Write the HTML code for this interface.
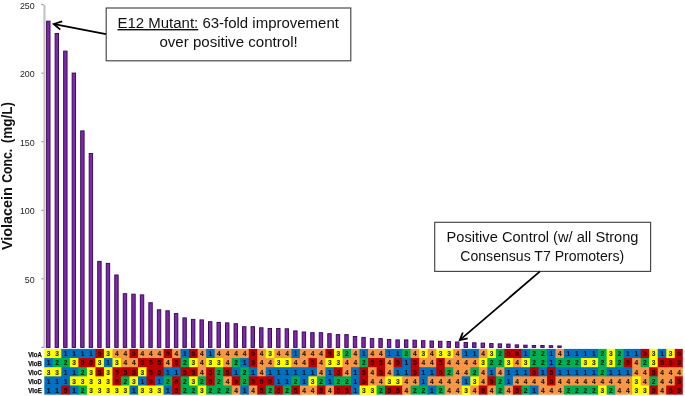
<!DOCTYPE html>
<html><head><meta charset="utf-8"><title>Violacein chart</title>
<style>
html,body{margin:0;padding:0;background:#fff;}
body{width:685px;height:396px;overflow:hidden;}
svg{display:block;font-family:"Liberation Sans",sans-serif;}
.t{font-size:8.9px;fill:#262626;text-anchor:end;}
.n{font-size:6.6px;font-weight:bold;fill:#000;fill-opacity:.85;stroke:#000;stroke-opacity:.5;stroke-width:.2px;text-anchor:middle;}
.v{font-size:7px;font-weight:bold;fill:#111;stroke:#111;stroke-width:.25px;}
.b{font-size:14px;fill:#111;}
.yl{font-size:13.8px;font-weight:bold;fill:#111;}
</style></head><body>
<svg width="685" height="396" viewBox="0 0 685 396">
<rect width="685" height="396" fill="#fff"/>
<g stroke="#c4c4c4" stroke-width="2.2" fill="none"><line x1="44.45" y1="4.7" x2="44.45" y2="347.9"/></g><g stroke="#8c8c8c" stroke-width="1" fill="none">
<line x1="41.3" y1="4.7" x2="43.6" y2="4.7"/>
<line x1="41.3" y1="73.2" x2="43.6" y2="73.2"/>
<line x1="41.3" y1="141.7" x2="43.6" y2="141.7"/>
<line x1="41.3" y1="210.3" x2="43.6" y2="210.3"/>
<line x1="41.3" y1="278.8" x2="43.6" y2="278.8"/>
<line x1="41.3" y1="347.3" x2="43.6" y2="347.3"/>
</g>
<text class="t" x="34.7" y="8.8">250</text>
<text class="t" x="34.7" y="77.3">200</text>
<text class="t" x="34.7" y="145.8">150</text>
<text class="t" x="34.7" y="214.4">100</text>
<text class="t" x="34.7" y="282.9">50</text>
<g transform="translate(12.3,0)"><text class="yl" transform="translate(0,250) rotate(-90)" textLength="62.8" lengthAdjust="spacingAndGlyphs">Violacein</text><text class="yl" transform="translate(0,182.8) rotate(-90)" textLength="34" lengthAdjust="spacingAndGlyphs">Conc.</text><text class="yl" transform="translate(0,143.3) rotate(-90)" textLength="41.3" lengthAdjust="spacingAndGlyphs">(mg/L)</text></g>
<g fill="#8028ab" stroke="#3a0d58" stroke-width="1">
<rect x="46.60" y="21.20" width="3.40" height="326.20"/>
<rect x="55.12" y="33.50" width="3.40" height="313.90"/>
<rect x="63.64" y="51.10" width="3.40" height="296.30"/>
<rect x="72.16" y="73.10" width="3.40" height="274.30"/>
<rect x="80.68" y="130.90" width="3.40" height="216.50"/>
<rect x="89.20" y="153.50" width="3.40" height="193.90"/>
<rect x="97.72" y="261.40" width="3.40" height="86.00"/>
<rect x="106.24" y="263.40" width="3.40" height="84.00"/>
<rect x="114.76" y="275.00" width="3.40" height="72.40"/>
<rect x="123.28" y="293.70" width="3.40" height="53.70"/>
<rect x="131.80" y="294.20" width="3.40" height="53.20"/>
<rect x="140.32" y="294.90" width="3.40" height="52.50"/>
<rect x="148.84" y="302.70" width="3.40" height="44.70"/>
<rect x="157.36" y="309.80" width="3.40" height="37.60"/>
<rect x="165.88" y="310.80" width="3.40" height="36.60"/>
<rect x="174.40" y="313.60" width="3.40" height="33.80"/>
<rect x="182.92" y="317.90" width="3.40" height="29.50"/>
<rect x="191.44" y="319.40" width="3.40" height="28.00"/>
<rect x="199.96" y="319.90" width="3.40" height="27.50"/>
<rect x="208.48" y="321.70" width="3.40" height="25.70"/>
<rect x="217.00" y="322.40" width="3.40" height="25.00"/>
<rect x="225.52" y="322.90" width="3.40" height="24.50"/>
<rect x="234.04" y="323.70" width="3.40" height="23.70"/>
<rect x="242.56" y="326.70" width="3.40" height="20.70"/>
<rect x="251.08" y="326.70" width="3.40" height="20.70"/>
<rect x="259.60" y="327.80" width="3.40" height="19.60"/>
<rect x="268.12" y="328.50" width="3.40" height="18.90"/>
<rect x="276.64" y="328.50" width="3.40" height="18.90"/>
<rect x="285.16" y="328.80" width="3.40" height="18.60"/>
<rect x="293.68" y="330.90" width="3.40" height="16.50"/>
<rect x="302.20" y="332.00" width="3.40" height="15.40"/>
<rect x="310.72" y="332.70" width="3.40" height="14.70"/>
<rect x="319.24" y="332.70" width="3.40" height="14.70"/>
<rect x="327.76" y="333.70" width="3.40" height="13.70"/>
<rect x="336.28" y="334.60" width="3.40" height="12.80"/>
<rect x="344.80" y="334.60" width="3.40" height="12.80"/>
<rect x="353.32" y="336.50" width="3.40" height="10.90"/>
<rect x="361.84" y="337.40" width="3.40" height="10.00"/>
<rect x="370.36" y="338.60" width="3.40" height="8.80"/>
<rect x="378.88" y="338.60" width="3.40" height="8.80"/>
<rect x="387.40" y="339.50" width="3.40" height="7.90"/>
<rect x="395.92" y="339.90" width="3.40" height="7.50"/>
<rect x="404.44" y="339.90" width="3.40" height="7.50"/>
<rect x="412.96" y="340.20" width="3.40" height="7.20"/>
<rect x="421.48" y="340.70" width="3.40" height="6.70"/>
<rect x="430.00" y="341.00" width="3.40" height="6.40"/>
<rect x="438.52" y="341.30" width="3.40" height="6.10"/>
<rect x="447.04" y="341.50" width="3.40" height="5.90"/>
<rect x="455.56" y="342.00" width="3.40" height="5.40"/>
<rect x="464.08" y="342.50" width="3.40" height="4.90"/>
<rect x="472.60" y="342.80" width="3.40" height="4.60"/>
<rect x="481.12" y="343.10" width="3.40" height="4.30"/>
<rect x="489.64" y="343.60" width="3.40" height="3.80"/>
<rect x="498.16" y="343.90" width="3.40" height="3.50"/>
<rect x="506.68" y="344.10" width="3.40" height="3.30"/>
<rect x="515.20" y="344.90" width="3.40" height="2.50"/>
<rect x="523.72" y="345.20" width="3.40" height="2.20"/>
<rect x="532.24" y="345.50" width="3.40" height="1.90"/>
<rect x="540.76" y="345.50" width="3.40" height="1.90"/>
<rect x="549.28" y="345.70" width="3.40" height="1.70"/>
<rect x="557.80" y="346.00" width="3.40" height="1.40"/>
</g>
<rect x="44.30" y="348.90" width="17.84" height="9.95" fill="#FFFF00"/>
<rect x="61.34" y="348.90" width="34.88" height="9.95" fill="#0070C0"/>
<rect x="95.42" y="348.90" width="9.32" height="9.95" fill="#C00000"/>
<rect x="103.94" y="348.90" width="9.32" height="9.95" fill="#FFFF00"/>
<rect x="112.46" y="348.90" width="17.84" height="9.95" fill="#F79646"/>
<rect x="129.50" y="348.90" width="9.32" height="9.95" fill="#C00000"/>
<rect x="138.02" y="348.90" width="26.36" height="9.95" fill="#F79646"/>
<rect x="163.58" y="348.90" width="9.32" height="9.95" fill="#C00000"/>
<rect x="172.10" y="348.90" width="9.32" height="9.95" fill="#F79646"/>
<rect x="180.62" y="348.90" width="9.32" height="9.95" fill="#0070C0"/>
<rect x="189.14" y="348.90" width="9.32" height="9.95" fill="#C00000"/>
<rect x="197.66" y="348.90" width="9.32" height="9.95" fill="#F79646"/>
<rect x="206.18" y="348.90" width="9.32" height="9.95" fill="#0070C0"/>
<rect x="214.70" y="348.90" width="34.88" height="9.95" fill="#F79646"/>
<rect x="248.78" y="348.90" width="9.32" height="9.95" fill="#C00000"/>
<rect x="257.30" y="348.90" width="9.32" height="9.95" fill="#F79646"/>
<rect x="265.82" y="348.90" width="9.32" height="9.95" fill="#FFFF00"/>
<rect x="274.34" y="348.90" width="17.84" height="9.95" fill="#F79646"/>
<rect x="291.38" y="348.90" width="9.32" height="9.95" fill="#0070C0"/>
<rect x="299.90" y="348.90" width="26.36" height="9.95" fill="#F79646"/>
<rect x="325.46" y="348.90" width="9.32" height="9.95" fill="#C00000"/>
<rect x="333.98" y="348.90" width="9.32" height="9.95" fill="#FFFF00"/>
<rect x="342.50" y="348.90" width="9.32" height="9.95" fill="#00B050"/>
<rect x="351.02" y="348.90" width="9.32" height="9.95" fill="#F79646"/>
<rect x="359.54" y="348.90" width="9.32" height="9.95" fill="#0070C0"/>
<rect x="368.06" y="348.90" width="17.84" height="9.95" fill="#F79646"/>
<rect x="385.10" y="348.90" width="17.84" height="9.95" fill="#0070C0"/>
<rect x="402.14" y="348.90" width="9.32" height="9.95" fill="#00B050"/>
<rect x="410.66" y="348.90" width="9.32" height="9.95" fill="#F79646"/>
<rect x="419.18" y="348.90" width="9.32" height="9.95" fill="#FFFF00"/>
<rect x="427.70" y="348.90" width="9.32" height="9.95" fill="#F79646"/>
<rect x="436.22" y="348.90" width="17.84" height="9.95" fill="#FFFF00"/>
<rect x="453.26" y="348.90" width="9.32" height="9.95" fill="#F79646"/>
<rect x="461.78" y="348.90" width="17.84" height="9.95" fill="#0070C0"/>
<rect x="478.82" y="348.90" width="9.32" height="9.95" fill="#F79646"/>
<rect x="487.34" y="348.90" width="9.32" height="9.95" fill="#FFFF00"/>
<rect x="495.86" y="348.90" width="9.32" height="9.95" fill="#00B050"/>
<rect x="504.38" y="348.90" width="17.84" height="9.95" fill="#C00000"/>
<rect x="521.42" y="348.90" width="9.32" height="9.95" fill="#0070C0"/>
<rect x="529.94" y="348.90" width="17.84" height="9.95" fill="#00B050"/>
<rect x="546.98" y="348.90" width="9.32" height="9.95" fill="#0070C0"/>
<rect x="555.50" y="348.90" width="9.32" height="9.95" fill="#F79646"/>
<rect x="564.02" y="348.90" width="34.88" height="9.95" fill="#0070C0"/>
<rect x="598.10" y="348.90" width="9.32" height="9.95" fill="#00B050"/>
<rect x="606.62" y="348.90" width="9.32" height="9.95" fill="#FFFF00"/>
<rect x="615.14" y="348.90" width="9.32" height="9.95" fill="#00B050"/>
<rect x="623.66" y="348.90" width="17.84" height="9.95" fill="#0070C0"/>
<rect x="640.70" y="348.90" width="9.32" height="9.95" fill="#C00000"/>
<rect x="649.22" y="348.90" width="9.32" height="9.95" fill="#FFFF00"/>
<rect x="657.74" y="348.90" width="9.32" height="9.95" fill="#0070C0"/>
<rect x="666.26" y="348.90" width="9.32" height="9.95" fill="#FFFF00"/>
<rect x="674.78" y="348.90" width="8.02" height="9.95" fill="#C00000"/>
<rect x="44.30" y="358.05" width="9.32" height="9.95" fill="#0070C0"/>
<rect x="52.82" y="358.05" width="17.84" height="9.95" fill="#00B050"/>
<rect x="69.86" y="358.05" width="9.32" height="9.95" fill="#FFFF00"/>
<rect x="78.38" y="358.05" width="17.84" height="9.95" fill="#C00000"/>
<rect x="95.42" y="358.05" width="9.32" height="9.95" fill="#FFFF00"/>
<rect x="103.94" y="358.05" width="9.32" height="9.95" fill="#0070C0"/>
<rect x="112.46" y="358.05" width="9.32" height="9.95" fill="#FFFF00"/>
<rect x="120.98" y="358.05" width="17.84" height="9.95" fill="#F79646"/>
<rect x="138.02" y="358.05" width="26.36" height="9.95" fill="#C00000"/>
<rect x="163.58" y="358.05" width="9.32" height="9.95" fill="#F79646"/>
<rect x="172.10" y="358.05" width="9.32" height="9.95" fill="#C00000"/>
<rect x="180.62" y="358.05" width="9.32" height="9.95" fill="#00B050"/>
<rect x="189.14" y="358.05" width="9.32" height="9.95" fill="#FFFF00"/>
<rect x="197.66" y="358.05" width="9.32" height="9.95" fill="#F79646"/>
<rect x="206.18" y="358.05" width="17.84" height="9.95" fill="#FFFF00"/>
<rect x="223.22" y="358.05" width="9.32" height="9.95" fill="#F79646"/>
<rect x="231.74" y="358.05" width="9.32" height="9.95" fill="#00B050"/>
<rect x="240.26" y="358.05" width="9.32" height="9.95" fill="#0070C0"/>
<rect x="248.78" y="358.05" width="9.32" height="9.95" fill="#C00000"/>
<rect x="257.30" y="358.05" width="17.84" height="9.95" fill="#F79646"/>
<rect x="274.34" y="358.05" width="17.84" height="9.95" fill="#FFFF00"/>
<rect x="291.38" y="358.05" width="17.84" height="9.95" fill="#F79646"/>
<rect x="308.42" y="358.05" width="9.32" height="9.95" fill="#C00000"/>
<rect x="316.94" y="358.05" width="9.32" height="9.95" fill="#F79646"/>
<rect x="325.46" y="358.05" width="17.84" height="9.95" fill="#FFFF00"/>
<rect x="342.50" y="358.05" width="17.84" height="9.95" fill="#F79646"/>
<rect x="359.54" y="358.05" width="9.32" height="9.95" fill="#00B050"/>
<rect x="368.06" y="358.05" width="17.84" height="9.95" fill="#C00000"/>
<rect x="385.10" y="358.05" width="9.32" height="9.95" fill="#F79646"/>
<rect x="393.62" y="358.05" width="9.32" height="9.95" fill="#C00000"/>
<rect x="402.14" y="358.05" width="9.32" height="9.95" fill="#0070C0"/>
<rect x="410.66" y="358.05" width="9.32" height="9.95" fill="#C00000"/>
<rect x="419.18" y="358.05" width="17.84" height="9.95" fill="#F79646"/>
<rect x="436.22" y="358.05" width="9.32" height="9.95" fill="#C00000"/>
<rect x="444.74" y="358.05" width="34.88" height="9.95" fill="#F79646"/>
<rect x="478.82" y="358.05" width="9.32" height="9.95" fill="#FFFF00"/>
<rect x="487.34" y="358.05" width="17.84" height="9.95" fill="#00B050"/>
<rect x="504.38" y="358.05" width="9.32" height="9.95" fill="#FFFF00"/>
<rect x="512.90" y="358.05" width="9.32" height="9.95" fill="#F79646"/>
<rect x="521.42" y="358.05" width="9.32" height="9.95" fill="#FFFF00"/>
<rect x="529.94" y="358.05" width="17.84" height="9.95" fill="#00B050"/>
<rect x="546.98" y="358.05" width="9.32" height="9.95" fill="#0070C0"/>
<rect x="555.50" y="358.05" width="26.36" height="9.95" fill="#00B050"/>
<rect x="581.06" y="358.05" width="17.84" height="9.95" fill="#FFFF00"/>
<rect x="598.10" y="358.05" width="9.32" height="9.95" fill="#00B050"/>
<rect x="606.62" y="358.05" width="9.32" height="9.95" fill="#FFFF00"/>
<rect x="615.14" y="358.05" width="9.32" height="9.95" fill="#00B050"/>
<rect x="623.66" y="358.05" width="9.32" height="9.95" fill="#C00000"/>
<rect x="632.18" y="358.05" width="9.32" height="9.95" fill="#F79646"/>
<rect x="640.70" y="358.05" width="9.32" height="9.95" fill="#00B050"/>
<rect x="649.22" y="358.05" width="9.32" height="9.95" fill="#FFFF00"/>
<rect x="657.74" y="358.05" width="25.06" height="9.95" fill="#C00000"/>
<rect x="44.30" y="367.20" width="17.84" height="9.95" fill="#FFFF00"/>
<rect x="61.34" y="367.20" width="17.84" height="9.95" fill="#0070C0"/>
<rect x="78.38" y="367.20" width="9.32" height="9.95" fill="#00B050"/>
<rect x="86.90" y="367.20" width="9.32" height="9.95" fill="#FFFF00"/>
<rect x="95.42" y="367.20" width="9.32" height="9.95" fill="#C00000"/>
<rect x="103.94" y="367.20" width="9.32" height="9.95" fill="#FFFF00"/>
<rect x="112.46" y="367.20" width="26.36" height="9.95" fill="#C00000"/>
<rect x="138.02" y="367.20" width="9.32" height="9.95" fill="#FFFF00"/>
<rect x="146.54" y="367.20" width="17.84" height="9.95" fill="#C00000"/>
<rect x="163.58" y="367.20" width="17.84" height="9.95" fill="#0070C0"/>
<rect x="180.62" y="367.20" width="17.84" height="9.95" fill="#C00000"/>
<rect x="197.66" y="367.20" width="9.32" height="9.95" fill="#F79646"/>
<rect x="206.18" y="367.20" width="9.32" height="9.95" fill="#C00000"/>
<rect x="214.70" y="367.20" width="9.32" height="9.95" fill="#00B050"/>
<rect x="223.22" y="367.20" width="9.32" height="9.95" fill="#C00000"/>
<rect x="231.74" y="367.20" width="9.32" height="9.95" fill="#0070C0"/>
<rect x="240.26" y="367.20" width="9.32" height="9.95" fill="#00B050"/>
<rect x="248.78" y="367.20" width="9.32" height="9.95" fill="#0070C0"/>
<rect x="257.30" y="367.20" width="9.32" height="9.95" fill="#F79646"/>
<rect x="265.82" y="367.20" width="51.92" height="9.95" fill="#0070C0"/>
<rect x="316.94" y="367.20" width="9.32" height="9.95" fill="#F79646"/>
<rect x="325.46" y="367.20" width="9.32" height="9.95" fill="#0070C0"/>
<rect x="333.98" y="367.20" width="9.32" height="9.95" fill="#C00000"/>
<rect x="342.50" y="367.20" width="9.32" height="9.95" fill="#F79646"/>
<rect x="351.02" y="367.20" width="9.32" height="9.95" fill="#0070C0"/>
<rect x="359.54" y="367.20" width="9.32" height="9.95" fill="#C00000"/>
<rect x="368.06" y="367.20" width="9.32" height="9.95" fill="#F79646"/>
<rect x="376.58" y="367.20" width="9.32" height="9.95" fill="#C00000"/>
<rect x="385.10" y="367.20" width="9.32" height="9.95" fill="#F79646"/>
<rect x="393.62" y="367.20" width="17.84" height="9.95" fill="#0070C0"/>
<rect x="410.66" y="367.20" width="9.32" height="9.95" fill="#C00000"/>
<rect x="419.18" y="367.20" width="17.84" height="9.95" fill="#0070C0"/>
<rect x="436.22" y="367.20" width="9.32" height="9.95" fill="#C00000"/>
<rect x="444.74" y="367.20" width="9.32" height="9.95" fill="#00B050"/>
<rect x="453.26" y="367.20" width="17.84" height="9.95" fill="#F79646"/>
<rect x="470.30" y="367.20" width="9.32" height="9.95" fill="#00B050"/>
<rect x="478.82" y="367.20" width="9.32" height="9.95" fill="#F79646"/>
<rect x="487.34" y="367.20" width="9.32" height="9.95" fill="#0070C0"/>
<rect x="495.86" y="367.20" width="9.32" height="9.95" fill="#F79646"/>
<rect x="504.38" y="367.20" width="26.36" height="9.95" fill="#0070C0"/>
<rect x="529.94" y="367.20" width="9.32" height="9.95" fill="#C00000"/>
<rect x="538.46" y="367.20" width="9.32" height="9.95" fill="#0070C0"/>
<rect x="546.98" y="367.20" width="9.32" height="9.95" fill="#C00000"/>
<rect x="555.50" y="367.20" width="43.40" height="9.95" fill="#0070C0"/>
<rect x="598.10" y="367.20" width="9.32" height="9.95" fill="#00B050"/>
<rect x="606.62" y="367.20" width="26.36" height="9.95" fill="#0070C0"/>
<rect x="632.18" y="367.20" width="17.84" height="9.95" fill="#F79646"/>
<rect x="649.22" y="367.20" width="9.32" height="9.95" fill="#C00000"/>
<rect x="657.74" y="367.20" width="25.06" height="9.95" fill="#F79646"/>
<rect x="44.30" y="376.35" width="26.36" height="9.95" fill="#0070C0"/>
<rect x="69.86" y="376.35" width="43.40" height="9.95" fill="#FFFF00"/>
<rect x="112.46" y="376.35" width="9.32" height="9.95" fill="#C00000"/>
<rect x="120.98" y="376.35" width="9.32" height="9.95" fill="#00B050"/>
<rect x="129.50" y="376.35" width="9.32" height="9.95" fill="#FFFF00"/>
<rect x="138.02" y="376.35" width="9.32" height="9.95" fill="#0070C0"/>
<rect x="146.54" y="376.35" width="9.32" height="9.95" fill="#C00000"/>
<rect x="155.06" y="376.35" width="9.32" height="9.95" fill="#0070C0"/>
<rect x="163.58" y="376.35" width="9.32" height="9.95" fill="#00B050"/>
<rect x="172.10" y="376.35" width="9.32" height="9.95" fill="#C00000"/>
<rect x="180.62" y="376.35" width="9.32" height="9.95" fill="#00B050"/>
<rect x="189.14" y="376.35" width="9.32" height="9.95" fill="#FFFF00"/>
<rect x="197.66" y="376.35" width="9.32" height="9.95" fill="#00B050"/>
<rect x="206.18" y="376.35" width="9.32" height="9.95" fill="#C00000"/>
<rect x="214.70" y="376.35" width="9.32" height="9.95" fill="#00B050"/>
<rect x="223.22" y="376.35" width="9.32" height="9.95" fill="#F79646"/>
<rect x="231.74" y="376.35" width="9.32" height="9.95" fill="#C00000"/>
<rect x="240.26" y="376.35" width="9.32" height="9.95" fill="#00B050"/>
<rect x="248.78" y="376.35" width="26.36" height="9.95" fill="#C00000"/>
<rect x="274.34" y="376.35" width="17.84" height="9.95" fill="#0070C0"/>
<rect x="291.38" y="376.35" width="9.32" height="9.95" fill="#00B050"/>
<rect x="299.90" y="376.35" width="9.32" height="9.95" fill="#0070C0"/>
<rect x="308.42" y="376.35" width="9.32" height="9.95" fill="#FFFF00"/>
<rect x="316.94" y="376.35" width="9.32" height="9.95" fill="#00B050"/>
<rect x="325.46" y="376.35" width="9.32" height="9.95" fill="#0070C0"/>
<rect x="333.98" y="376.35" width="17.84" height="9.95" fill="#00B050"/>
<rect x="351.02" y="376.35" width="9.32" height="9.95" fill="#0070C0"/>
<rect x="359.54" y="376.35" width="9.32" height="9.95" fill="#C00000"/>
<rect x="368.06" y="376.35" width="17.84" height="9.95" fill="#F79646"/>
<rect x="385.10" y="376.35" width="17.84" height="9.95" fill="#FFFF00"/>
<rect x="402.14" y="376.35" width="17.84" height="9.95" fill="#F79646"/>
<rect x="419.18" y="376.35" width="9.32" height="9.95" fill="#0070C0"/>
<rect x="427.70" y="376.35" width="34.88" height="9.95" fill="#F79646"/>
<rect x="461.78" y="376.35" width="9.32" height="9.95" fill="#0070C0"/>
<rect x="470.30" y="376.35" width="9.32" height="9.95" fill="#FFFF00"/>
<rect x="478.82" y="376.35" width="9.32" height="9.95" fill="#F79646"/>
<rect x="487.34" y="376.35" width="9.32" height="9.95" fill="#C00000"/>
<rect x="495.86" y="376.35" width="9.32" height="9.95" fill="#00B050"/>
<rect x="504.38" y="376.35" width="9.32" height="9.95" fill="#0070C0"/>
<rect x="512.90" y="376.35" width="34.88" height="9.95" fill="#F79646"/>
<rect x="546.98" y="376.35" width="9.32" height="9.95" fill="#C00000"/>
<rect x="555.50" y="376.35" width="77.48" height="9.95" fill="#F79646"/>
<rect x="632.18" y="376.35" width="9.32" height="9.95" fill="#FFFF00"/>
<rect x="640.70" y="376.35" width="9.32" height="9.95" fill="#F79646"/>
<rect x="649.22" y="376.35" width="9.32" height="9.95" fill="#00B050"/>
<rect x="657.74" y="376.35" width="17.84" height="9.95" fill="#F79646"/>
<rect x="674.78" y="376.35" width="8.02" height="9.95" fill="#C00000"/>
<rect x="44.30" y="385.50" width="17.84" height="9.15" fill="#0070C0"/>
<rect x="61.34" y="385.50" width="9.32" height="9.15" fill="#C00000"/>
<rect x="69.86" y="385.50" width="9.32" height="9.15" fill="#0070C0"/>
<rect x="78.38" y="385.50" width="9.32" height="9.15" fill="#00B050"/>
<rect x="86.90" y="385.50" width="43.40" height="9.15" fill="#FFFF00"/>
<rect x="129.50" y="385.50" width="9.32" height="9.15" fill="#0070C0"/>
<rect x="138.02" y="385.50" width="26.36" height="9.15" fill="#FFFF00"/>
<rect x="163.58" y="385.50" width="9.32" height="9.15" fill="#0070C0"/>
<rect x="172.10" y="385.50" width="9.32" height="9.15" fill="#C00000"/>
<rect x="180.62" y="385.50" width="17.84" height="9.15" fill="#00B050"/>
<rect x="197.66" y="385.50" width="9.32" height="9.15" fill="#FFFF00"/>
<rect x="206.18" y="385.50" width="26.36" height="9.15" fill="#00B050"/>
<rect x="231.74" y="385.50" width="9.32" height="9.15" fill="#F79646"/>
<rect x="240.26" y="385.50" width="9.32" height="9.15" fill="#0070C0"/>
<rect x="248.78" y="385.50" width="9.32" height="9.15" fill="#F79646"/>
<rect x="257.30" y="385.50" width="9.32" height="9.15" fill="#C00000"/>
<rect x="265.82" y="385.50" width="9.32" height="9.15" fill="#00B050"/>
<rect x="274.34" y="385.50" width="9.32" height="9.15" fill="#C00000"/>
<rect x="282.86" y="385.50" width="9.32" height="9.15" fill="#00B050"/>
<rect x="291.38" y="385.50" width="9.32" height="9.15" fill="#C00000"/>
<rect x="299.90" y="385.50" width="17.84" height="9.15" fill="#F79646"/>
<rect x="316.94" y="385.50" width="9.32" height="9.15" fill="#C00000"/>
<rect x="325.46" y="385.50" width="9.32" height="9.15" fill="#F79646"/>
<rect x="333.98" y="385.50" width="17.84" height="9.15" fill="#C00000"/>
<rect x="351.02" y="385.50" width="9.32" height="9.15" fill="#0070C0"/>
<rect x="359.54" y="385.50" width="17.84" height="9.15" fill="#FFFF00"/>
<rect x="376.58" y="385.50" width="9.32" height="9.15" fill="#00B050"/>
<rect x="385.10" y="385.50" width="17.84" height="9.15" fill="#C00000"/>
<rect x="402.14" y="385.50" width="9.32" height="9.15" fill="#F79646"/>
<rect x="410.66" y="385.50" width="17.84" height="9.15" fill="#00B050"/>
<rect x="427.70" y="385.50" width="9.32" height="9.15" fill="#0070C0"/>
<rect x="436.22" y="385.50" width="9.32" height="9.15" fill="#00B050"/>
<rect x="444.74" y="385.50" width="17.84" height="9.15" fill="#F79646"/>
<rect x="461.78" y="385.50" width="9.32" height="9.15" fill="#FFFF00"/>
<rect x="470.30" y="385.50" width="9.32" height="9.15" fill="#F79646"/>
<rect x="478.82" y="385.50" width="9.32" height="9.15" fill="#C00000"/>
<rect x="487.34" y="385.50" width="9.32" height="9.15" fill="#F79646"/>
<rect x="495.86" y="385.50" width="9.32" height="9.15" fill="#00B050"/>
<rect x="504.38" y="385.50" width="9.32" height="9.15" fill="#F79646"/>
<rect x="512.90" y="385.50" width="9.32" height="9.15" fill="#C00000"/>
<rect x="521.42" y="385.50" width="9.32" height="9.15" fill="#00B050"/>
<rect x="529.94" y="385.50" width="9.32" height="9.15" fill="#0070C0"/>
<rect x="538.46" y="385.50" width="26.36" height="9.15" fill="#F79646"/>
<rect x="564.02" y="385.50" width="34.88" height="9.15" fill="#00B050"/>
<rect x="598.10" y="385.50" width="9.32" height="9.15" fill="#FFFF00"/>
<rect x="606.62" y="385.50" width="9.32" height="9.15" fill="#00B050"/>
<rect x="615.14" y="385.50" width="17.84" height="9.15" fill="#F79646"/>
<rect x="632.18" y="385.50" width="17.84" height="9.15" fill="#FFFF00"/>
<rect x="649.22" y="385.50" width="9.32" height="9.15" fill="#C00000"/>
<rect x="657.74" y="385.50" width="9.32" height="9.15" fill="#F79646"/>
<rect x="666.26" y="385.50" width="16.54" height="9.15" fill="#C00000"/>
<text class="v" x="28.2" y="356.5" textLength="13.6" lengthAdjust="spacingAndGlyphs">VioA</text>
<text class="n" x="48.56" y="356.20">3</text>
<text class="n" x="57.08" y="356.20">3</text>
<text class="n" x="65.60" y="356.20">1</text>
<text class="n" x="74.12" y="356.20">1</text>
<text class="n" x="82.64" y="356.20">1</text>
<text class="n" x="91.16" y="356.20">1</text>
<text class="n" x="99.68" y="356.20">5</text>
<text class="n" x="108.20" y="356.20">3</text>
<text class="n" x="116.72" y="356.20">4</text>
<text class="n" x="125.24" y="356.20">4</text>
<text class="n" x="133.76" y="356.20">5</text>
<text class="n" x="142.28" y="356.20">4</text>
<text class="n" x="150.80" y="356.20">4</text>
<text class="n" x="159.32" y="356.20">4</text>
<text class="n" x="167.84" y="356.20">5</text>
<text class="n" x="176.36" y="356.20">4</text>
<text class="n" x="184.88" y="356.20">1</text>
<text class="n" x="193.40" y="356.20">5</text>
<text class="n" x="201.92" y="356.20">4</text>
<text class="n" x="210.44" y="356.20">1</text>
<text class="n" x="218.96" y="356.20">4</text>
<text class="n" x="227.48" y="356.20">4</text>
<text class="n" x="236.00" y="356.20">4</text>
<text class="n" x="244.52" y="356.20">4</text>
<text class="n" x="253.04" y="356.20">5</text>
<text class="n" x="261.56" y="356.20">4</text>
<text class="n" x="270.08" y="356.20">3</text>
<text class="n" x="278.60" y="356.20">4</text>
<text class="n" x="287.12" y="356.20">4</text>
<text class="n" x="295.64" y="356.20">1</text>
<text class="n" x="304.16" y="356.20">4</text>
<text class="n" x="312.68" y="356.20">4</text>
<text class="n" x="321.20" y="356.20">4</text>
<text class="n" x="329.72" y="356.20">5</text>
<text class="n" x="338.24" y="356.20">3</text>
<text class="n" x="346.76" y="356.20">2</text>
<text class="n" x="355.28" y="356.20">4</text>
<text class="n" x="363.80" y="356.20">1</text>
<text class="n" x="372.32" y="356.20">4</text>
<text class="n" x="380.84" y="356.20">4</text>
<text class="n" x="389.36" y="356.20">1</text>
<text class="n" x="397.88" y="356.20">1</text>
<text class="n" x="406.40" y="356.20">2</text>
<text class="n" x="414.92" y="356.20">4</text>
<text class="n" x="423.44" y="356.20">3</text>
<text class="n" x="431.96" y="356.20">4</text>
<text class="n" x="440.48" y="356.20">3</text>
<text class="n" x="449.00" y="356.20">3</text>
<text class="n" x="457.52" y="356.20">4</text>
<text class="n" x="466.04" y="356.20">1</text>
<text class="n" x="474.56" y="356.20">1</text>
<text class="n" x="483.08" y="356.20">4</text>
<text class="n" x="491.60" y="356.20">3</text>
<text class="n" x="500.12" y="356.20">2</text>
<text class="n" x="508.64" y="356.20">5</text>
<text class="n" x="517.16" y="356.20">5</text>
<text class="n" x="525.68" y="356.20">1</text>
<text class="n" x="534.20" y="356.20">2</text>
<text class="n" x="542.72" y="356.20">2</text>
<text class="n" x="551.24" y="356.20">1</text>
<text class="n" x="559.76" y="356.20">4</text>
<text class="n" x="568.28" y="356.20">1</text>
<text class="n" x="576.80" y="356.20">1</text>
<text class="n" x="585.32" y="356.20">1</text>
<text class="n" x="593.84" y="356.20">1</text>
<text class="n" x="602.36" y="356.20">2</text>
<text class="n" x="610.88" y="356.20">3</text>
<text class="n" x="619.40" y="356.20">2</text>
<text class="n" x="627.92" y="356.20">1</text>
<text class="n" x="636.44" y="356.20">1</text>
<text class="n" x="644.96" y="356.20">5</text>
<text class="n" x="653.48" y="356.20">3</text>
<text class="n" x="662.00" y="356.20">1</text>
<text class="n" x="670.52" y="356.20">3</text>
<text class="n" x="679.04" y="356.20">5</text>
<text class="v" x="28.2" y="365.6" textLength="13.6" lengthAdjust="spacingAndGlyphs">VioB</text>
<text class="n" x="48.56" y="365.35">1</text>
<text class="n" x="57.08" y="365.35">2</text>
<text class="n" x="65.60" y="365.35">2</text>
<text class="n" x="74.12" y="365.35">3</text>
<text class="n" x="82.64" y="365.35">5</text>
<text class="n" x="91.16" y="365.35">5</text>
<text class="n" x="99.68" y="365.35">3</text>
<text class="n" x="108.20" y="365.35">1</text>
<text class="n" x="116.72" y="365.35">3</text>
<text class="n" x="125.24" y="365.35">4</text>
<text class="n" x="133.76" y="365.35">4</text>
<text class="n" x="142.28" y="365.35">5</text>
<text class="n" x="150.80" y="365.35">5</text>
<text class="n" x="159.32" y="365.35">5</text>
<text class="n" x="167.84" y="365.35">4</text>
<text class="n" x="176.36" y="365.35">5</text>
<text class="n" x="184.88" y="365.35">2</text>
<text class="n" x="193.40" y="365.35">3</text>
<text class="n" x="201.92" y="365.35">4</text>
<text class="n" x="210.44" y="365.35">3</text>
<text class="n" x="218.96" y="365.35">3</text>
<text class="n" x="227.48" y="365.35">4</text>
<text class="n" x="236.00" y="365.35">2</text>
<text class="n" x="244.52" y="365.35">1</text>
<text class="n" x="253.04" y="365.35">5</text>
<text class="n" x="261.56" y="365.35">4</text>
<text class="n" x="270.08" y="365.35">4</text>
<text class="n" x="278.60" y="365.35">3</text>
<text class="n" x="287.12" y="365.35">3</text>
<text class="n" x="295.64" y="365.35">4</text>
<text class="n" x="304.16" y="365.35">4</text>
<text class="n" x="312.68" y="365.35">5</text>
<text class="n" x="321.20" y="365.35">4</text>
<text class="n" x="329.72" y="365.35">3</text>
<text class="n" x="338.24" y="365.35">3</text>
<text class="n" x="346.76" y="365.35">4</text>
<text class="n" x="355.28" y="365.35">4</text>
<text class="n" x="363.80" y="365.35">2</text>
<text class="n" x="372.32" y="365.35">5</text>
<text class="n" x="380.84" y="365.35">5</text>
<text class="n" x="389.36" y="365.35">4</text>
<text class="n" x="397.88" y="365.35">5</text>
<text class="n" x="406.40" y="365.35">1</text>
<text class="n" x="414.92" y="365.35">5</text>
<text class="n" x="423.44" y="365.35">4</text>
<text class="n" x="431.96" y="365.35">4</text>
<text class="n" x="440.48" y="365.35">5</text>
<text class="n" x="449.00" y="365.35">4</text>
<text class="n" x="457.52" y="365.35">4</text>
<text class="n" x="466.04" y="365.35">4</text>
<text class="n" x="474.56" y="365.35">4</text>
<text class="n" x="483.08" y="365.35">3</text>
<text class="n" x="491.60" y="365.35">2</text>
<text class="n" x="500.12" y="365.35">2</text>
<text class="n" x="508.64" y="365.35">3</text>
<text class="n" x="517.16" y="365.35">4</text>
<text class="n" x="525.68" y="365.35">3</text>
<text class="n" x="534.20" y="365.35">2</text>
<text class="n" x="542.72" y="365.35">2</text>
<text class="n" x="551.24" y="365.35">1</text>
<text class="n" x="559.76" y="365.35">2</text>
<text class="n" x="568.28" y="365.35">2</text>
<text class="n" x="576.80" y="365.35">2</text>
<text class="n" x="585.32" y="365.35">3</text>
<text class="n" x="593.84" y="365.35">3</text>
<text class="n" x="602.36" y="365.35">2</text>
<text class="n" x="610.88" y="365.35">3</text>
<text class="n" x="619.40" y="365.35">2</text>
<text class="n" x="627.92" y="365.35">5</text>
<text class="n" x="636.44" y="365.35">4</text>
<text class="n" x="644.96" y="365.35">2</text>
<text class="n" x="653.48" y="365.35">3</text>
<text class="n" x="662.00" y="365.35">5</text>
<text class="n" x="670.52" y="365.35">5</text>
<text class="n" x="679.04" y="365.35">5</text>
<text class="v" x="28.2" y="374.8" textLength="13.6" lengthAdjust="spacingAndGlyphs">VioC</text>
<text class="n" x="48.56" y="374.50">3</text>
<text class="n" x="57.08" y="374.50">3</text>
<text class="n" x="65.60" y="374.50">1</text>
<text class="n" x="74.12" y="374.50">1</text>
<text class="n" x="82.64" y="374.50">2</text>
<text class="n" x="91.16" y="374.50">3</text>
<text class="n" x="99.68" y="374.50">5</text>
<text class="n" x="108.20" y="374.50">3</text>
<text class="n" x="116.72" y="374.50">5</text>
<text class="n" x="125.24" y="374.50">5</text>
<text class="n" x="133.76" y="374.50">5</text>
<text class="n" x="142.28" y="374.50">3</text>
<text class="n" x="150.80" y="374.50">5</text>
<text class="n" x="159.32" y="374.50">5</text>
<text class="n" x="167.84" y="374.50">1</text>
<text class="n" x="176.36" y="374.50">1</text>
<text class="n" x="184.88" y="374.50">5</text>
<text class="n" x="193.40" y="374.50">5</text>
<text class="n" x="201.92" y="374.50">4</text>
<text class="n" x="210.44" y="374.50">5</text>
<text class="n" x="218.96" y="374.50">2</text>
<text class="n" x="227.48" y="374.50">5</text>
<text class="n" x="236.00" y="374.50">1</text>
<text class="n" x="244.52" y="374.50">2</text>
<text class="n" x="253.04" y="374.50">1</text>
<text class="n" x="261.56" y="374.50">4</text>
<text class="n" x="270.08" y="374.50">1</text>
<text class="n" x="278.60" y="374.50">1</text>
<text class="n" x="287.12" y="374.50">1</text>
<text class="n" x="295.64" y="374.50">1</text>
<text class="n" x="304.16" y="374.50">1</text>
<text class="n" x="312.68" y="374.50">1</text>
<text class="n" x="321.20" y="374.50">4</text>
<text class="n" x="329.72" y="374.50">1</text>
<text class="n" x="338.24" y="374.50">5</text>
<text class="n" x="346.76" y="374.50">4</text>
<text class="n" x="355.28" y="374.50">1</text>
<text class="n" x="363.80" y="374.50">5</text>
<text class="n" x="372.32" y="374.50">4</text>
<text class="n" x="380.84" y="374.50">5</text>
<text class="n" x="389.36" y="374.50">4</text>
<text class="n" x="397.88" y="374.50">1</text>
<text class="n" x="406.40" y="374.50">1</text>
<text class="n" x="414.92" y="374.50">5</text>
<text class="n" x="423.44" y="374.50">1</text>
<text class="n" x="431.96" y="374.50">1</text>
<text class="n" x="440.48" y="374.50">5</text>
<text class="n" x="449.00" y="374.50">2</text>
<text class="n" x="457.52" y="374.50">4</text>
<text class="n" x="466.04" y="374.50">4</text>
<text class="n" x="474.56" y="374.50">2</text>
<text class="n" x="483.08" y="374.50">4</text>
<text class="n" x="491.60" y="374.50">1</text>
<text class="n" x="500.12" y="374.50">4</text>
<text class="n" x="508.64" y="374.50">1</text>
<text class="n" x="517.16" y="374.50">1</text>
<text class="n" x="525.68" y="374.50">1</text>
<text class="n" x="534.20" y="374.50">5</text>
<text class="n" x="542.72" y="374.50">1</text>
<text class="n" x="551.24" y="374.50">5</text>
<text class="n" x="559.76" y="374.50">1</text>
<text class="n" x="568.28" y="374.50">1</text>
<text class="n" x="576.80" y="374.50">1</text>
<text class="n" x="585.32" y="374.50">1</text>
<text class="n" x="593.84" y="374.50">1</text>
<text class="n" x="602.36" y="374.50">2</text>
<text class="n" x="610.88" y="374.50">1</text>
<text class="n" x="619.40" y="374.50">1</text>
<text class="n" x="627.92" y="374.50">1</text>
<text class="n" x="636.44" y="374.50">4</text>
<text class="n" x="644.96" y="374.50">4</text>
<text class="n" x="653.48" y="374.50">5</text>
<text class="n" x="662.00" y="374.50">4</text>
<text class="n" x="670.52" y="374.50">4</text>
<text class="n" x="679.04" y="374.50">4</text>
<text class="v" x="28.2" y="383.9" textLength="13.6" lengthAdjust="spacingAndGlyphs">VioD</text>
<text class="n" x="48.56" y="383.65">1</text>
<text class="n" x="57.08" y="383.65">1</text>
<text class="n" x="65.60" y="383.65">1</text>
<text class="n" x="74.12" y="383.65">3</text>
<text class="n" x="82.64" y="383.65">3</text>
<text class="n" x="91.16" y="383.65">3</text>
<text class="n" x="99.68" y="383.65">3</text>
<text class="n" x="108.20" y="383.65">3</text>
<text class="n" x="116.72" y="383.65">5</text>
<text class="n" x="125.24" y="383.65">2</text>
<text class="n" x="133.76" y="383.65">3</text>
<text class="n" x="142.28" y="383.65">1</text>
<text class="n" x="150.80" y="383.65">5</text>
<text class="n" x="159.32" y="383.65">1</text>
<text class="n" x="167.84" y="383.65">2</text>
<text class="n" x="176.36" y="383.65">5</text>
<text class="n" x="184.88" y="383.65">2</text>
<text class="n" x="193.40" y="383.65">3</text>
<text class="n" x="201.92" y="383.65">2</text>
<text class="n" x="210.44" y="383.65">5</text>
<text class="n" x="218.96" y="383.65">2</text>
<text class="n" x="227.48" y="383.65">4</text>
<text class="n" x="236.00" y="383.65">5</text>
<text class="n" x="244.52" y="383.65">2</text>
<text class="n" x="253.04" y="383.65">5</text>
<text class="n" x="261.56" y="383.65">5</text>
<text class="n" x="270.08" y="383.65">5</text>
<text class="n" x="278.60" y="383.65">1</text>
<text class="n" x="287.12" y="383.65">1</text>
<text class="n" x="295.64" y="383.65">2</text>
<text class="n" x="304.16" y="383.65">1</text>
<text class="n" x="312.68" y="383.65">3</text>
<text class="n" x="321.20" y="383.65">2</text>
<text class="n" x="329.72" y="383.65">1</text>
<text class="n" x="338.24" y="383.65">2</text>
<text class="n" x="346.76" y="383.65">2</text>
<text class="n" x="355.28" y="383.65">1</text>
<text class="n" x="363.80" y="383.65">5</text>
<text class="n" x="372.32" y="383.65">4</text>
<text class="n" x="380.84" y="383.65">4</text>
<text class="n" x="389.36" y="383.65">3</text>
<text class="n" x="397.88" y="383.65">3</text>
<text class="n" x="406.40" y="383.65">4</text>
<text class="n" x="414.92" y="383.65">4</text>
<text class="n" x="423.44" y="383.65">1</text>
<text class="n" x="431.96" y="383.65">4</text>
<text class="n" x="440.48" y="383.65">4</text>
<text class="n" x="449.00" y="383.65">4</text>
<text class="n" x="457.52" y="383.65">4</text>
<text class="n" x="466.04" y="383.65">1</text>
<text class="n" x="474.56" y="383.65">3</text>
<text class="n" x="483.08" y="383.65">4</text>
<text class="n" x="491.60" y="383.65">5</text>
<text class="n" x="500.12" y="383.65">2</text>
<text class="n" x="508.64" y="383.65">1</text>
<text class="n" x="517.16" y="383.65">4</text>
<text class="n" x="525.68" y="383.65">4</text>
<text class="n" x="534.20" y="383.65">4</text>
<text class="n" x="542.72" y="383.65">4</text>
<text class="n" x="551.24" y="383.65">5</text>
<text class="n" x="559.76" y="383.65">4</text>
<text class="n" x="568.28" y="383.65">4</text>
<text class="n" x="576.80" y="383.65">4</text>
<text class="n" x="585.32" y="383.65">4</text>
<text class="n" x="593.84" y="383.65">4</text>
<text class="n" x="602.36" y="383.65">4</text>
<text class="n" x="610.88" y="383.65">4</text>
<text class="n" x="619.40" y="383.65">4</text>
<text class="n" x="627.92" y="383.65">4</text>
<text class="n" x="636.44" y="383.65">3</text>
<text class="n" x="644.96" y="383.65">4</text>
<text class="n" x="653.48" y="383.65">2</text>
<text class="n" x="662.00" y="383.65">4</text>
<text class="n" x="670.52" y="383.65">4</text>
<text class="n" x="679.04" y="383.65">5</text>
<text class="v" x="28.2" y="393.1" textLength="13.6" lengthAdjust="spacingAndGlyphs">VioE</text>
<text class="n" x="48.56" y="392.80">1</text>
<text class="n" x="57.08" y="392.80">1</text>
<text class="n" x="65.60" y="392.80">5</text>
<text class="n" x="74.12" y="392.80">1</text>
<text class="n" x="82.64" y="392.80">2</text>
<text class="n" x="91.16" y="392.80">3</text>
<text class="n" x="99.68" y="392.80">3</text>
<text class="n" x="108.20" y="392.80">3</text>
<text class="n" x="116.72" y="392.80">3</text>
<text class="n" x="125.24" y="392.80">3</text>
<text class="n" x="133.76" y="392.80">1</text>
<text class="n" x="142.28" y="392.80">3</text>
<text class="n" x="150.80" y="392.80">3</text>
<text class="n" x="159.32" y="392.80">3</text>
<text class="n" x="167.84" y="392.80">1</text>
<text class="n" x="176.36" y="392.80">5</text>
<text class="n" x="184.88" y="392.80">2</text>
<text class="n" x="193.40" y="392.80">2</text>
<text class="n" x="201.92" y="392.80">3</text>
<text class="n" x="210.44" y="392.80">2</text>
<text class="n" x="218.96" y="392.80">2</text>
<text class="n" x="227.48" y="392.80">2</text>
<text class="n" x="236.00" y="392.80">4</text>
<text class="n" x="244.52" y="392.80">1</text>
<text class="n" x="253.04" y="392.80">4</text>
<text class="n" x="261.56" y="392.80">5</text>
<text class="n" x="270.08" y="392.80">2</text>
<text class="n" x="278.60" y="392.80">5</text>
<text class="n" x="287.12" y="392.80">2</text>
<text class="n" x="295.64" y="392.80">5</text>
<text class="n" x="304.16" y="392.80">4</text>
<text class="n" x="312.68" y="392.80">4</text>
<text class="n" x="321.20" y="392.80">5</text>
<text class="n" x="329.72" y="392.80">4</text>
<text class="n" x="338.24" y="392.80">5</text>
<text class="n" x="346.76" y="392.80">5</text>
<text class="n" x="355.28" y="392.80">1</text>
<text class="n" x="363.80" y="392.80">3</text>
<text class="n" x="372.32" y="392.80">3</text>
<text class="n" x="380.84" y="392.80">2</text>
<text class="n" x="389.36" y="392.80">5</text>
<text class="n" x="397.88" y="392.80">5</text>
<text class="n" x="406.40" y="392.80">4</text>
<text class="n" x="414.92" y="392.80">2</text>
<text class="n" x="423.44" y="392.80">2</text>
<text class="n" x="431.96" y="392.80">1</text>
<text class="n" x="440.48" y="392.80">2</text>
<text class="n" x="449.00" y="392.80">4</text>
<text class="n" x="457.52" y="392.80">4</text>
<text class="n" x="466.04" y="392.80">3</text>
<text class="n" x="474.56" y="392.80">4</text>
<text class="n" x="483.08" y="392.80">5</text>
<text class="n" x="491.60" y="392.80">4</text>
<text class="n" x="500.12" y="392.80">2</text>
<text class="n" x="508.64" y="392.80">4</text>
<text class="n" x="517.16" y="392.80">5</text>
<text class="n" x="525.68" y="392.80">2</text>
<text class="n" x="534.20" y="392.80">1</text>
<text class="n" x="542.72" y="392.80">4</text>
<text class="n" x="551.24" y="392.80">4</text>
<text class="n" x="559.76" y="392.80">4</text>
<text class="n" x="568.28" y="392.80">2</text>
<text class="n" x="576.80" y="392.80">2</text>
<text class="n" x="585.32" y="392.80">2</text>
<text class="n" x="593.84" y="392.80">2</text>
<text class="n" x="602.36" y="392.80">3</text>
<text class="n" x="610.88" y="392.80">2</text>
<text class="n" x="619.40" y="392.80">4</text>
<text class="n" x="627.92" y="392.80">4</text>
<text class="n" x="636.44" y="392.80">3</text>
<text class="n" x="644.96" y="392.80">3</text>
<text class="n" x="653.48" y="392.80">5</text>
<text class="n" x="662.00" y="392.80">4</text>
<text class="n" x="670.52" y="392.80">5</text>
<text class="n" x="679.04" y="392.80">5</text>
<rect x="106.2" y="8" width="244.6" height="52.8" fill="#fff" stroke="#444" stroke-width="1.15"/>
<text class="b" x="117.5" y="28" textLength="221.4" lengthAdjust="spacingAndGlyphs"><tspan text-decoration="underline">E12 Mutant:</tspan> 63-fold improvement</text>
<text class="b" x="159.4" y="47.1" textLength="138.3" lengthAdjust="spacingAndGlyphs">over positive control!</text>
<rect x="434.7" y="222.3" width="215.9" height="49.1" fill="#fff" stroke="#444" stroke-width="1.15"/>
<text class="b" x="446.6" y="242.1" textLength="191.9" lengthAdjust="spacingAndGlyphs">Positive Control (w/ all Strong</text>
<text class="b" x="460.3" y="260.9" textLength="163.9" lengthAdjust="spacingAndGlyphs">Consensus T7 Promoters)</text>
<g stroke="#000" stroke-width="1.8" fill="none" stroke-linecap="butt" stroke-linejoin="miter">
<line x1="106" y1="34.1" x2="54.2" y2="24.1"/><polyline points="62.2,21.3 53.7,24 60.3,29.6"/>
<line x1="540" y1="271.4" x2="460" y2="339.9"/><polyline points="462.8,332.5 459.8,340.1 467.7,338.4"/>
</g>
</svg></body></html>
